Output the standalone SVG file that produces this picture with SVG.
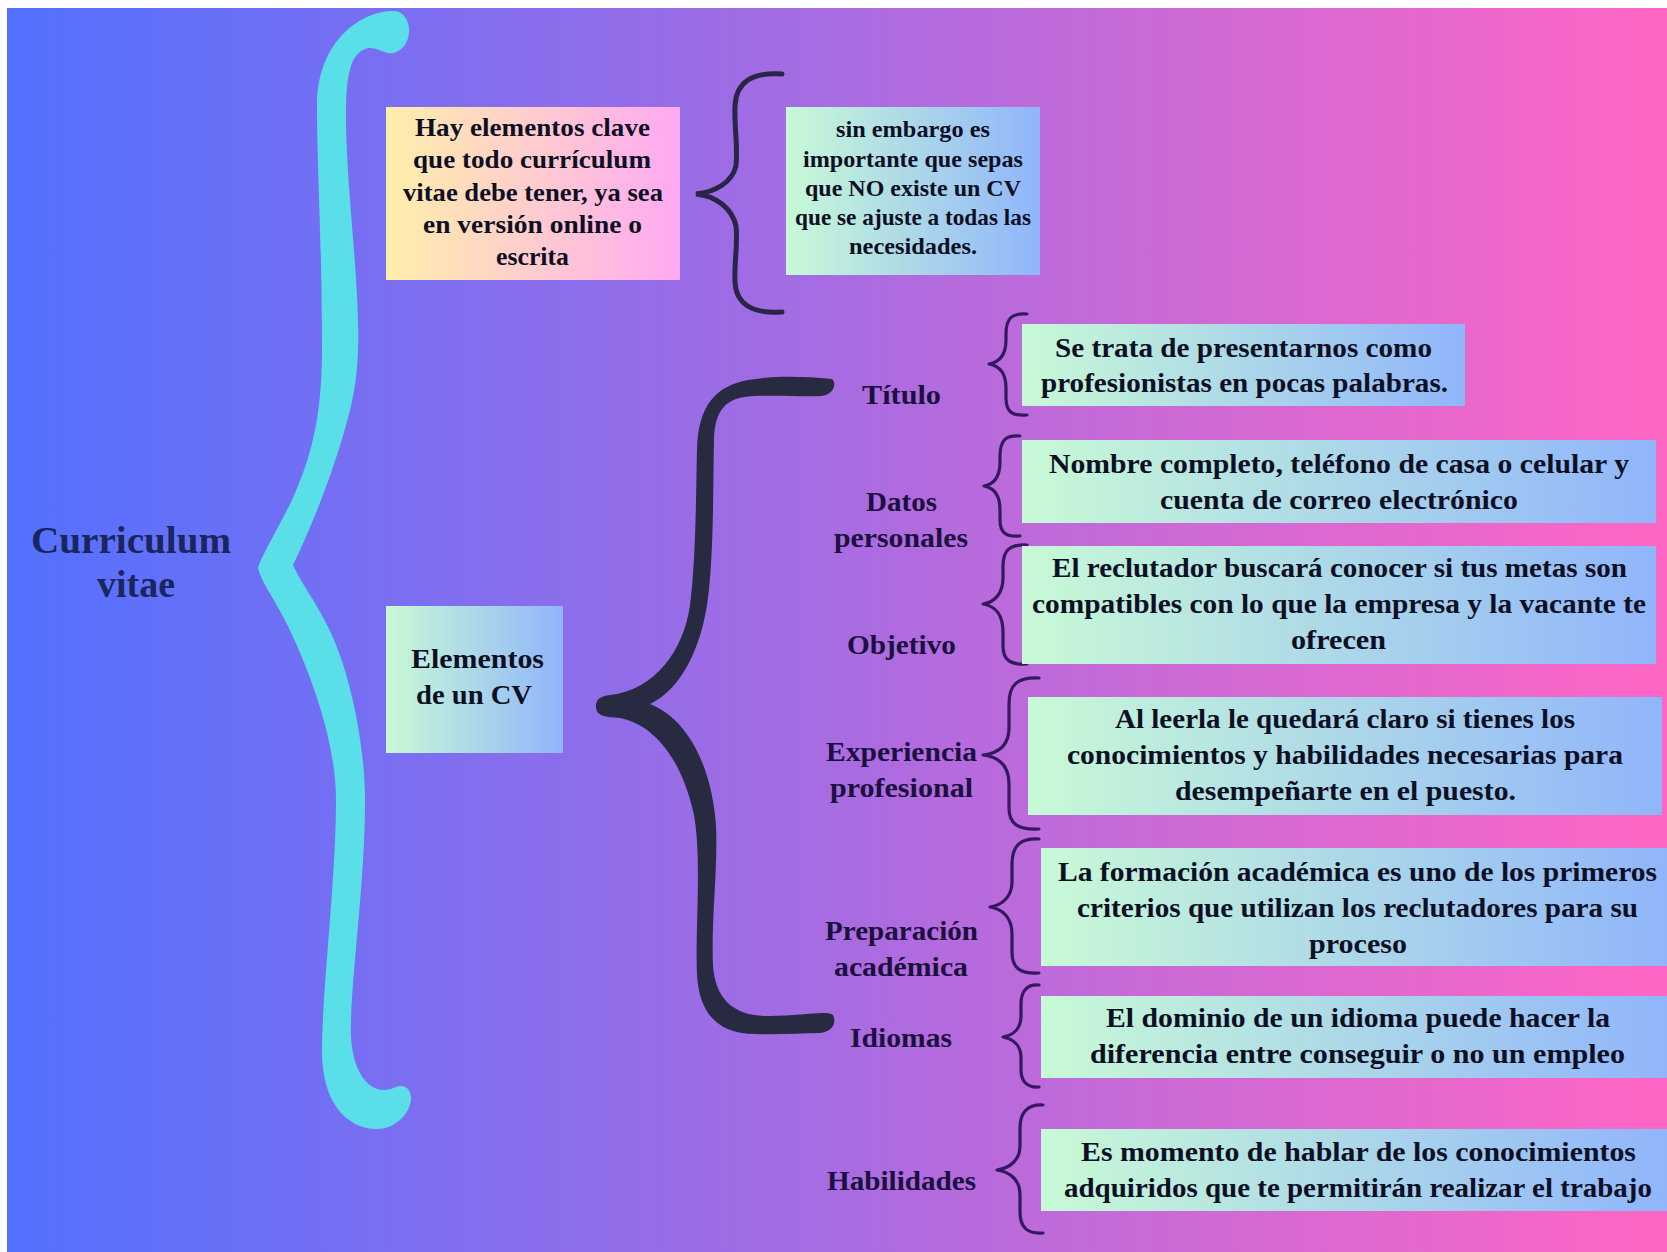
<svg xmlns="http://www.w3.org/2000/svg" width="1667" height="1252" viewBox="0 0 1667 1252">
<style>
text{font-family:"Liberation Serif","Times New Roman",serif;font-weight:700;fill:#0d1024;font-size:27px}
.lab{fill:#1b103f}
.small{font-size:23px}
.mid{font-size:25px}
.title{fill:#1b2560;font-size:38px}
.thin{fill:none;stroke:#33195f;stroke-width:3.2;stroke-linecap:round;stroke-linejoin:round}
</style>
<defs>
<linearGradient id="bg"><stop offset="0" stop-color="#5271ff"/><stop offset="1" stop-color="#ff66c4"/></linearGradient>
<linearGradient id="warm"><stop offset="0" stop-color="#ffefaa"/><stop offset="1" stop-color="#ffa9f2"/></linearGradient>
<linearGradient id="cool"><stop offset="0" stop-color="#c8fad6"/><stop offset="1" stop-color="#90b5fb"/></linearGradient>
</defs>
<rect width="1667" height="1252" fill="#ffffff"/>
<rect x="7" y="8" width="1660" height="1244" fill="url(#bg)"/>
<g id="connectors">
<path id="brace-main" fill="#5adfe8" d="M393 11C362 11 317 40 317 106C317 170 322 240 322 350C322 420 310 460 292 500C280 525 262 555 258 568C262 585 280 605 298 648C314 685 336 745 336 800C336 880 322 990 322 1052C322 1100 345 1129 377 1129C398 1129 412 1110 411 1097C410 1088 404 1084 396 1087C384 1093 372 1090 363 1078C352 1062 350 1040 351 1020C353 960 365 880 365 800C365 745 350 670 328 627C315 600 302 585 293 565C310 530 335 470 350 410C358 380 359 345 358 320C356 250 345 170 346 106C347 70 352 52 368 48C378 47 386 55 394 53C404 50 410 40 409 28C408 18 402 11 393 11Z"/>
<path id="brace-medium" fill="none" stroke="#2a2447" stroke-width="5" stroke-linecap="round" d="M782 74C752 72 736 82 735 106C734 125 738 145 736 166C732 182 716 192 696 194C716 196 732 208 736 226C738 245 734 262 735 282C736 304 752 314 782 312"/>
<path id="brace-dark" fill="#272a41" d="M832 379C800 376 770 376 748 380C716 386 698 405 697 450C696 490 696 560 690 605C684 650 655 690 610 695C600 696 595 700 596 708C597 716 605 717 620 718C655 725 682 760 694 815C702 860 695 930 697 975C699 1010 715 1034 755 1034C780 1035 800 1033 820 1033C832 1032 837 1023 833 1015C828 1010 800 1016 770 1016C735 1017 715 1000 713 965C711 920 718 870 716 825C712 770 690 720 650 704C680 690 700 650 707 605C714 560 713 480 714 440C715 410 725 397 755 396C780 395 805 397 822 396C834 394 837 383 832 379Z"/>
<path class="thin" d="M1027 314C1012 313 1006 318 1006 334L1006 340C1006 354 1000 362 989 364C1000 366 1006 374 1006 388L1006 398C1006 412 1012 416 1027 415"/>
<path class="thin" d="M1020 436C1006 435 1000 440 1000 456L1000 462C1000 476 995 484 984 486C995 488 1000 496 1000 510L1000 520C1000 533 1006 537 1020 536"/>
<path class="thin" d="M1027 545C1010 544 1003 550 1003 566L1003 578C1003 592 996 602 983 604C996 606 1003 616 1003 632L1003 646C1003 660 1010 665 1027 664"/>
<path class="thin" d="M1039 678C1018 677 1009 684 1009 704L1009 728C1009 744 1000 753 983 755C1000 757 1009 766 1009 784L1009 808C1009 824 1018 830 1039 829"/>
<path class="thin" d="M1039 839C1020 838 1012 846 1012 864L1012 882C1012 896 1003 905 990 907C1003 909 1012 918 1012 934L1012 952C1012 968 1020 974 1039 973"/>
<path class="thin" d="M1039 985C1028 984 1021 990 1021 1004L1021 1016C1021 1028 1014 1035 1003 1037C1014 1039 1021 1046 1021 1058L1021 1070C1021 1082 1028 1088 1039 1087"/>
<path class="thin" d="M1043 1105C1028 1104 1020 1112 1020 1128L1020 1146C1020 1160 1010 1168 997 1170C1010 1172 1020 1180 1020 1194L1020 1212C1020 1228 1028 1234 1043 1233"/>
</g>
<g id="node-curriculum">
<text class="title" x="31" y="553" textLength="200" lengthAdjust="spacingAndGlyphs">Curriculum</text>
<text class="title" x="97" y="597" textLength="78" lengthAdjust="spacingAndGlyphs">vitae</text>
</g>
<g id="node-clave">
<rect x="386" y="107" width="294" height="173" fill="url(#warm)"/>
<text class="mid" x="415" y="136" textLength="235" lengthAdjust="spacingAndGlyphs">Hay elementos clave</text>
<text class="mid" x="413" y="168" textLength="238" lengthAdjust="spacingAndGlyphs">que todo currículum</text>
<text class="mid" x="403" y="201" textLength="260" lengthAdjust="spacingAndGlyphs">vitae debe tener, ya sea</text>
<text class="mid" x="423" y="233" textLength="219" lengthAdjust="spacingAndGlyphs">en versión online o</text>
<text class="mid" x="496" y="265" textLength="73" lengthAdjust="spacingAndGlyphs">escrita</text>
</g>
<g id="node-sin-embargo">
<rect x="786" y="107" width="254" height="168" fill="url(#cool)"/>
<text class="small" x="836" y="137" textLength="154" lengthAdjust="spacingAndGlyphs">sin embargo es</text>
<text class="small" x="803" y="167" textLength="220" lengthAdjust="spacingAndGlyphs">importante que sepas</text>
<text class="small" x="805" y="196" textLength="216" lengthAdjust="spacingAndGlyphs">que NO existe un CV</text>
<text class="small" x="795" y="225" textLength="236" lengthAdjust="spacingAndGlyphs">que se ajuste a todas las</text>
<text class="small" x="849" y="254" textLength="128" lengthAdjust="spacingAndGlyphs">necesidades.</text>
</g>
<g id="node-elementos">
<rect x="386" y="606" width="177" height="147" fill="url(#cool)"/>
<text x="411" y="668" textLength="133" lengthAdjust="spacingAndGlyphs">Elementos</text>
<text x="416" y="704" textLength="116" lengthAdjust="spacingAndGlyphs">de un CV</text>
</g>
<g id="node-titulo">
<text class="lab" x="862" y="404" textLength="79" lengthAdjust="spacingAndGlyphs">Título</text>
<rect x="1022" y="324" width="443" height="82" fill="url(#cool)"/>
<text x="1055" y="357" textLength="377" lengthAdjust="spacingAndGlyphs">Se trata de presentarnos como</text>
<text x="1041" y="392" textLength="407" lengthAdjust="spacingAndGlyphs">profesionistas en pocas palabras.</text>
</g>
<g id="node-datos">
<text class="lab" x="866" y="511" textLength="71" lengthAdjust="spacingAndGlyphs">Datos</text>
<text class="lab" x="834" y="547" textLength="134" lengthAdjust="spacingAndGlyphs">personales</text>
<rect x="1022" y="440" width="634" height="83" fill="url(#cool)"/>
<text x="1049" y="473" textLength="580" lengthAdjust="spacingAndGlyphs">Nombre completo, teléfono de casa o celular y</text>
<text x="1160" y="509" textLength="358" lengthAdjust="spacingAndGlyphs">cuenta de correo electrónico</text>
</g>
<g id="node-objetivo">
<text class="lab" x="847" y="654" textLength="109" lengthAdjust="spacingAndGlyphs">Objetivo</text>
<rect x="1022" y="546" width="634" height="118" fill="url(#cool)"/>
<text x="1052" y="577" textLength="575" lengthAdjust="spacingAndGlyphs">El reclutador buscará conocer si tus metas son</text>
<text x="1032" y="613" textLength="614" lengthAdjust="spacingAndGlyphs">compatibles con lo que la empresa y la vacante te</text>
<text x="1291" y="649" textLength="95" lengthAdjust="spacingAndGlyphs">ofrecen</text>
</g>
<g id="node-experiencia">
<text class="lab" x="826" y="761" textLength="151" lengthAdjust="spacingAndGlyphs">Experiencia</text>
<text class="lab" x="830" y="797" textLength="143" lengthAdjust="spacingAndGlyphs">profesional</text>
<rect x="1028" y="697" width="634" height="118" fill="url(#cool)"/>
<text x="1115" y="728" textLength="460" lengthAdjust="spacingAndGlyphs">Al leerla le quedará claro si tienes los</text>
<text x="1067" y="764" textLength="556" lengthAdjust="spacingAndGlyphs">conocimientos y habilidades necesarias para</text>
<text x="1175" y="800" textLength="341" lengthAdjust="spacingAndGlyphs">desempeñarte en el puesto.</text>
</g>
<g id="node-preparacion">
<text class="lab" x="825" y="940" textLength="153" lengthAdjust="spacingAndGlyphs">Preparación</text>
<text class="lab" x="834" y="976" textLength="134" lengthAdjust="spacingAndGlyphs">académica</text>
<rect x="1041" y="848" width="626" height="118" fill="url(#cool)"/>
<text x="1058" y="881" textLength="599" lengthAdjust="spacingAndGlyphs">La formación académica es uno de los primeros</text>
<text x="1077" y="917" textLength="561" lengthAdjust="spacingAndGlyphs">criterios que utilizan los reclutadores para su</text>
<text x="1309" y="953" textLength="98" lengthAdjust="spacingAndGlyphs">proceso</text>
</g>
<g id="node-idiomas">
<text class="lab" x="850" y="1047" textLength="102" lengthAdjust="spacingAndGlyphs">Idiomas</text>
<rect x="1041" y="996" width="626" height="82" fill="url(#cool)"/>
<text x="1106" y="1027" textLength="504" lengthAdjust="spacingAndGlyphs">El dominio de un idioma puede hacer la</text>
<text x="1090" y="1063" textLength="535" lengthAdjust="spacingAndGlyphs">diferencia entre conseguir o no un empleo</text>
</g>
<g id="node-habilidades">
<text class="lab" x="827" y="1190" textLength="149" lengthAdjust="spacingAndGlyphs">Habilidades</text>
<rect x="1041" y="1129" width="626" height="82" fill="url(#cool)"/>
<text x="1081" y="1161" textLength="555" lengthAdjust="spacingAndGlyphs">Es momento de hablar de los conocimientos</text>
<text x="1064" y="1197" textLength="588" lengthAdjust="spacingAndGlyphs">adquiridos que te permitirán realizar el trabajo</text>
</g>
</svg>
